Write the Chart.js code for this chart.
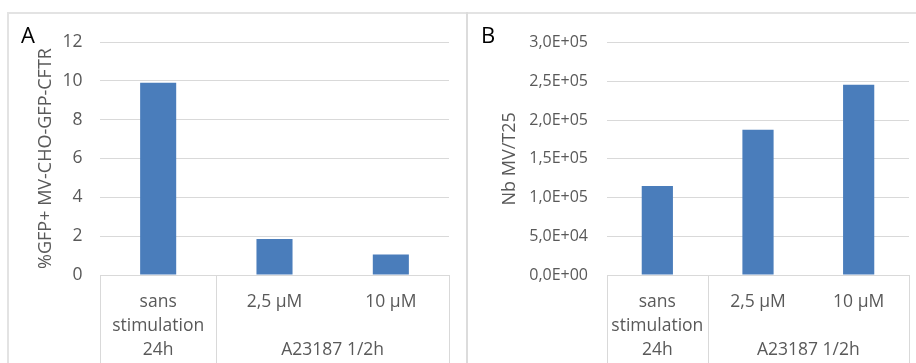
<!DOCTYPE html>
<html>
<head>
<meta charset="utf-8">
<script src="https://cdn.jsdelivr.net/npm/chart.js@4/dist/chart.umd.min.js"></script>
<style>
  html, body { margin: 0; padding: 0; background: #fff; }
  #wrap { position: relative; width: 916px; height: 363px; overflow: hidden; background: #fff; }
  .frameTop { position: absolute; left: 7px; top: 12px; width: 909px; height: 2px; background: #e3e3e3; }
  .frameLeft { position: absolute; left: 7px; top: 12px; width: 2px; height: 351px; background: #e3e3e3; }
  .frameMid { position: absolute; left: 466px; top: 12px; width: 2px; height: 351px; background: #dcdcdc; }
  .panel { position: absolute; top: 14px; height: 349px; }
  #pA { left: 9px; width: 457px; }
  #pB { left: 468px; width: 448px; }
  .letter { position: absolute; top: 19px; font-family: "Open Sans", sans-serif; font-size: 22px; color: #000; line-height: 30px; }
</style>
</head>
<body>
<div id="wrap">
  <div class="frameTop"></div>
  <div class="frameLeft"></div>
  <div class="frameMid"></div>
  <div class="panel" id="pA"><canvas id="cA" width="457" height="349"></canvas></div>
  <div class="panel" id="pB"><canvas id="cB" width="448" height="349"></canvas></div>
  <div class="letter" style="left:21px">A</div>
  <div class="letter" style="left:481px">B</div>
</div>
<script>
// ---- data ----
const categories = [["sans", "stimulation", "24h"], "2,5 µM", "10 µM"];
const groupLabels = ["", "A23187 1/2h"];
const groupSpans = [1, 2];

const valuesA = [9.9, 1.85, 1.05];
const titleA = "%GFP+ MV-CHO-GFP-CFTR";
const yTicksA = ["0", "2", "4", "6", "8", "10", "12"];

const valuesB = [115000, 187500, 245500];
const titleB = "Nb MV/T25";
const yTicksB = ["0,0E+00", "5,0E+04", "1,0E+05", "1,5E+05", "2,0E+05", "2,5E+05", "3,0E+05"];

// ---- styling ----
const FONT = "'Open Sans', sans-serif";
const TEXT = "#595959";
const GRID = "#d9d9d9";
const BAR = "#4a7dbb";
const XSIZE = 17.5;

const groupPlugin = {
  id: "groups",
  afterDraw(chart) {
    const x = chart.scales.x;
    const ctx = chart.ctx;
    const n = chart.data.labels.length;
    const top = chart.chartArea.bottom;
    const bottom = chart.height;
    const step = (x.right - x.left) / n;
    ctx.save();
    ctx.strokeStyle = GRID;
    ctx.lineWidth = 1;
    let idx = 0;
    const edges = [0];
    groupSpans.forEach(s => { idx += s; edges.push(idx); });
    edges.forEach(e => {
      const px = Math.round(x.left + e * step) + 0.5;
      ctx.beginPath();
      ctx.moveTo(px, top);
      ctx.lineTo(px, bottom);
      ctx.stroke();
    });
    ctx.fillStyle = TEXT;
    ctx.font = XSIZE + "px " + FONT;
    ctx.textAlign = "center";
    ctx.textBaseline = "middle";
    let start = 0;
    groupSpans.forEach((s, i) => {
      const cx = x.left + (start + s / 2) * step;
      if (groupLabels[i]) ctx.fillText(groupLabels[i], cx, top + 15 + 24 * 2 + 12);
      start += s;
    });
    ctx.restore();
  }
};

function makeChart(id, values, title, yTicks, max, stepSize, cfg) {
  return new Chart(document.getElementById(id), {
    type: "bar",
    data: {
      labels: categories,
      datasets: [{ data: values, backgroundColor: BAR, borderWidth: 0, categoryPercentage: 1, barPercentage: 0.31 }]
    },
    options: {
      responsive: false,
      animation: false,
      layout: { padding: { top: 21, right: cfg.right, left: 0, bottom: 0 } },
      plugins: { legend: { display: false }, tooltip: { enabled: false } },
      scales: {
        x: {
          grid: { display: false, drawTicks: false },
          border: { display: true, color: GRID, width: 1 },
          ticks: { color: TEXT, font: { family: FONT, size: XSIZE, lineHeight: "24px" }, padding: 15, maxRotation: 0, autoSkip: false },
          afterFit: s => { s.height = 88; }
        },
        y: {
          min: 0, max: max,
          ticks: { stepSize: stepSize, color: TEXT, font: { family: FONT, size: cfg.tickSize }, padding: cfg.tickPad,
                   callback: (v, i) => yTicks[i] },
          grid: { color: GRID, drawTicks: false },
          border: { display: false },
          title: { display: true, text: title, color: TEXT, font: { family: FONT, size: 18 }, padding: { top: cfg.titlePad, bottom: 0 } },
          afterFit: s => { s.width = cfg.yWidth; }
        }
      }
    },
    plugins: [groupPlugin]
  });
}

makeChart("cA", valuesA, titleA, yTicksA, 12, 2, { right: 17, yWidth: 91, tickPad: 17.5, titlePad: 26, tickSize: 17.5 });
makeChart("cB", valuesB, titleB, yTicksB, 300000, 50000, { right: 7, yWidth: 139, tickPad: 19, titlePad: 31, tickSize: 16 });
</script>
</body>
</html>
